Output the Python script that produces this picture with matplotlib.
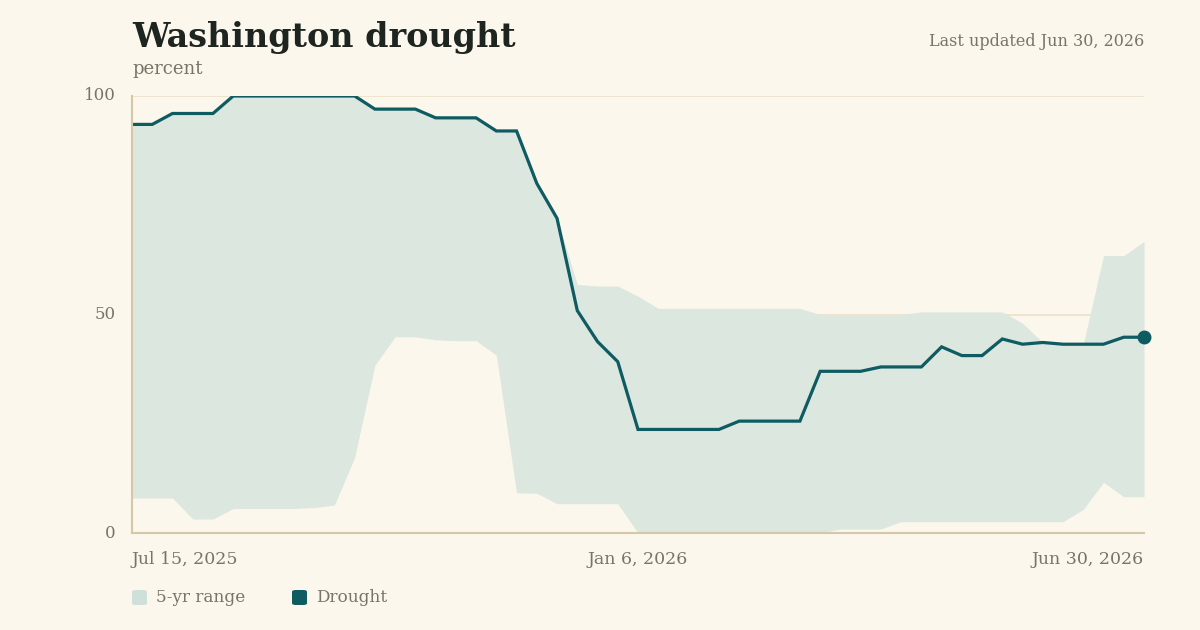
import matplotlib
matplotlib.use("Agg")
import matplotlib.pyplot as plt
import pandas as pd
from matplotlib.patches import FancyBboxPatch

# ---- data ----
start_date = "2025-07-15"
end_date = "2026-06-30"
drought = [93.5, 93.5, 96, 96, 96, 100, 100, 100, 100, 100, 100, 100,
           97, 97, 97, 95, 95, 95, 92, 92, 80, 72, 50.9, 43.8, 39.2,
           23.7, 23.7, 23.7, 23.7, 23.7, 25.6, 25.6, 25.6, 25.6,
           37.0, 37.0, 37.0, 38.0, 38.0, 38.0, 42.6, 40.6, 40.6, 44.4,
           43.2, 43.6, 43.2, 43.2, 43.2, 44.8, 44.8]
range_high = [93.5, 93.5, 96, 96, 96, 100, 100, 100, 100, 100, 100, 100,
              97, 97, 97, 95, 95, 95, 92, 92, 80, 72, 56.9, 56.5, 56.5,
              54.2, 51.4, 51.4, 51.4, 51.4, 51.4, 51.4, 51.4, 51.4,
              50.0, 50.0, 50.0, 50.0, 50.0, 50.6, 50.6, 50.6, 50.6, 50.6,
              48.0, 43.6, 43.2, 43.2, 63.5, 63.5, 66.7]
range_low = [8.0, 8.0, 8.0, 3.2, 3.2, 5.6, 5.6, 5.6, 5.6, 5.8, 6.4, 17.3,
             38.4, 44.9, 44.9, 44.2, 44.0, 44.0, 40.7, 9.2, 9.1, 6.7, 6.7, 6.7, 6.7,
             0, 0, 0, 0, 0, 0, 0, 0, 0,
             0, 0.9, 0.9, 0.9, 2.6, 2.6, 2.6, 2.6, 2.6, 2.6,
             2.6, 2.6, 2.6, 5.4, 11.6, 8.3, 8.3]
y_ticks = [0, 50, 100]
x_tick_labels = ["Jul 15, 2025", "Jan 6, 2026", "Jun 30, 2026"]
x_tick_dates = ["2025-07-15", "2026-01-06", "2026-06-30"]
title = "Washington drought"
subtitle = "percent"
updated = "Last updated Jun 30, 2026"
legend_labels = ["5-yr range", "Drought"]

dates = pd.date_range(start_date, end_date, freq="7D")

BG = "#FBF7EC"
BAND = "#DCE7DF"
BAND_LEG = "#CFE0DA"
LINE = "#0E5B62"
GRID = "#EDE3CF"
AXIS = "#D5C8A9"
GRAY = "#7A7466"
DARK = "#1E2420"
FONT = "DejaVu Serif"

fig = plt.figure(figsize=(12, 6.3), dpi=100, facecolor=BG)
ax = fig.add_axes([132/1200, 1-533/630, (1144-132)/1200, (533-96)/630])
ax.set_facecolor(BG)

ax.fill_between(dates, range_low, range_high, color=BAND, lw=0, zorder=1)
ax.plot(dates, drought, color=LINE, lw=2.3, zorder=3, solid_joinstyle="miter")
ax.plot(dates[-1:], drought[-1:], "o", color=LINE, ms=9, zorder=4, clip_on=False)

ax.set_xlim(dates[0], dates[-1])
ax.set_ylim(0, 100)
for y in [50, 100]:
    ax.axhline(y, color=GRID, lw=1.4, zorder=0.5)

for s in ["top", "right"]:
    ax.spines[s].set_visible(False)
ax.spines["left"].set_color(AXIS)
ax.spines["bottom"].set_color(AXIS)
ax.spines["left"].set_linewidth(1.5)
ax.spines["bottom"].set_linewidth(1.5)
ax.spines["left"].set_zorder(5)
ax.spines["bottom"].set_zorder(5)

ax.set_yticks(y_ticks)
ax.set_yticklabels([str(v) for v in y_ticks], fontsize=12, color=GRAY, family=FONT)
ax.tick_params(axis="y", length=0, pad=12)
ax.set_xticks(pd.to_datetime(x_tick_dates))
ax.set_xticklabels(x_tick_labels, fontsize=12.5, color=GRAY, family=FONT)
ax.tick_params(axis="x", length=0, pad=13)
labs = ax.get_xticklabels()
labs[0].set_ha("left")
labs[-1].set_ha("right")
for lab in ax.get_yticklabels():
    lab.set_va("center")

fig.text(132/1200, 1-47/630, title, fontsize=24, fontweight="bold", color=DARK,
         family=FONT, ha="left", va="baseline")
fig.text(132/1200, 1-74/630, subtitle, fontsize=13, color=GRAY, family=FONT,
         ha="left", va="baseline")
fig.text(1144/1200, 1-46/630, updated, fontsize=11.5, color=GRAY, family=FONT,
         ha="right", va="baseline")

# legend
for x0, col, lab in [(132, BAND_LEG, legend_labels[0]), (292, LINE, legend_labels[1])]:
    sq = FancyBboxPatch((x0/1200, 1-605/630), 15/1200, 15/630,
                        boxstyle="round,pad=0,rounding_size=0.003",
                        transform=fig.transFigure, facecolor=col, edgecolor="none")
    fig.patches.append(sq)
    fig.text((x0+24)/1200, 1-597/630, lab, fontsize=12.2, color=GRAY, family=FONT,
             ha="left", va="center")

fig.savefig("out.png", dpi=100, facecolor=BG)
